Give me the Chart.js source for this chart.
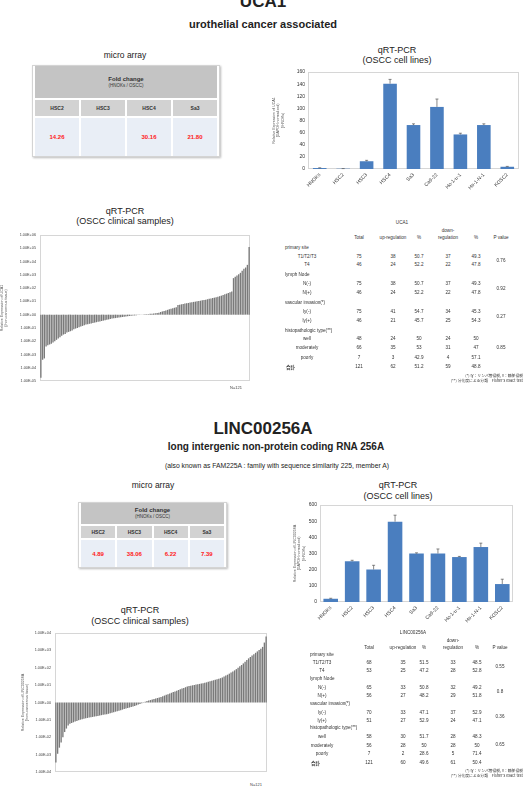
<!DOCTYPE html>
<html><head><meta charset="utf-8">
<script src="https://cdn.jsdelivr.net/npm/chart.js@4.4.1/dist/chart.umd.min.js"></script>
<style>
html,body{margin:0;padding:0;background:#fff;width:525px;height:787px;overflow:hidden;position:relative;font-family:"Liberation Sans",Arial,sans-serif;color:#222}
.t{position:absolute;white-space:nowrap;line-height:1;transform:translate(-50%,-50%)}
.t.l{transform:translate(0,-50%)}
.t.r{transform:translate(-100%,-50%)}
canvas{position:absolute}
table.ma{position:absolute;border-collapse:separate;border-spacing:2px 0;background:#fff;border:1px solid #d4d4d4;box-shadow:1px 1px 2px #bbb;font-weight:bold;table-layout:fixed}
table.ma td{text-align:center;padding:0;line-height:1}
table.ma td.hd{background:#c4c4c4;font-size:6px;color:#333}
table.ma td.hd span{font-size:4.5px;font-weight:normal}
table.ma td.ch{background:#d2d2d2;font-size:5px;color:#333;border-top:2px solid #fff}
table.ma td.v{background:#e9eef6;font-size:6px;color:#ff2020;border-top:2px solid #fff}
.tb{font-size:4.6px;color:#333}
</style></head><body>
<script>
// ---------------- DATA ----------------
const cellLines = ['HNOKs','HSC2','HSC3','HSC4','Sa3','Ca9-22','Ho-1-u-1','Ho-1-N-1','KOSC2'];
const ucaCellValues = [1.6, 0.5, 12.8, 140.8, 72.5, 102.4, 57, 72.5, 3.7];
const ucaCellErrors = [0.4, 0.2, 1.5, 7, 2, 13, 2, 2, 0.6];
const lincCellValues = [20, 252, 201, 497, 300, 300, 278, 340, 111];
const lincCellErrors = [3, 6, 26, 40, 4, 28, 4, 24, 30];

const maColumns = ['HSC2','HSC3','HSC4','Sa3'];
const maUCA1 = ['14.26','','30.16','21.80'];
const maLINC = ['4.89','38.06','6.22','7.39'];

// clinical samples, log10 relative expression, sorted
const ucaClinical = [-4.75,-3.4,-3.3,-2.4,-2.3,-2.25,-2.2,-2.1,-2.0,-1.9,-1.8,-1.7,-1.6,-1.5,-1.45,-1.35,-1.3,-1.25,-1.2,-1.1,-1.05,-1.0,-0.95,-0.9,-0.85,-0.8,
 -0.75,-0.72,-0.69,-0.66,-0.63,-0.6,-0.57,-0.54,-0.51,-0.48,-0.45,-0.42,-0.39,-0.36,-0.33,
 -0.3,-0.28,-0.26,-0.24,-0.22,-0.2,-0.18,-0.16,-0.14,-0.12,-0.1,-0.09,-0.07,-0.06,-0.05,-0.03,-0.02,-0.01,
 0.01,0.02,0.03,0.04,0.06,0.07,0.09,0.1,0.12,0.14,
 0.2,0.24,0.28,0.32,0.36,0.4,0.44,0.48,0.52,0.55,
 0.72,0.75,0.78,0.8,0.83,0.86,0.88,0.91,0.94,0.96,0.98,1.0,1.03,
 1.05,1.08,1.1,1.13,1.16,1.19,1.22,1.25,1.28,1.31,1.35,1.39,1.43,1.48,1.53,1.58,1.63,1.68,1.74,
 2.75,2.85,2.95,3.05,3.15,3.3,
 3.45,3.55,3.75,
 5.1];
const lincClinical = [-3.45,-2.95,-2.6,-2.3,-2.0,-1.7,-1.5,-1.33,-1.23,
 -1.18,-1.14,-1.1,-1.06,-1.02,-0.99,-0.96,
 -0.93,-0.91,-0.89,-0.87,-0.85,-0.83,-0.81,-0.79,-0.77,-0.75,-0.73,-0.71,-0.69,-0.67,-0.65,
 -0.62,-0.59,-0.56,-0.53,-0.5,-0.47,-0.44,-0.41,-0.38,-0.35,-0.32,-0.29,-0.26,-0.23,-0.2,-0.16,-0.12,-0.08,-0.04,
 0.02,0.05,0.08,0.11,0.14,0.17,0.2,0.23,0.26,0.29,0.32,
 0.36,0.4,0.44,0.48,0.52,0.56,0.6,0.64,0.68,0.72,0.76,0.8,0.84,0.88,0.92,
 0.95,0.97,0.99,1.01,1.03,1.05,1.07,1.09,1.11,1.13,1.16,1.19,1.22,1.25,1.28,1.31,1.34,1.37,1.4,1.44,
 1.5,1.55,1.6,1.66,1.72,1.78,1.85,1.92,2.0,2.08,2.16,2.25,2.34,2.44,2.54,
 2.62,2.7,2.78,2.86,2.94,3.02,3.1,3.2,
 3.45,3.8];

const clinHeaders = ['Total','up-regulation','%','regulation','%','P value'];
const clinLabelsUCA1 = [['primary site',0],['T1/T2/T3',1],['T4',1],['lymph Node',0],['N(-)',1],['N(+)',1],['vascular invasion(*)',0],['ly(-)',1],['ly(+)',1],['histopathologic type(**)',0],['well',1],['moderately',1],['poorly',1]];
const clinUCA1 = [null,[75,38,50.7,37,49.3],[46,24,52.2,22,47.8],null,[75,38,50.7,37,49.3],[46,24,52.2,22,47.8],null,[75,41,54.7,34,45.3],[46,21,45.7,25,54.3],null,[48,24,50.0,24,50.0],[66,35,53.0,31,47.0],[7,3,42.9,4,57.1]];
const totalUCA1 = [121,62,51.2,59,48.8];
const pUCA1 = ['0.76','0.92','0.27','0.85'];
const clinLINC = [null,[68,35,51.5,33,48.5],[53,25,47.2,28,52.8],null,[65,33,50.8,32,49.2],[56,27,48.2,29,51.8],null,[70,33,47.1,37,52.9],[51,27,52.9,24,47.1],null,[58,30,51.7,28,48.3],[56,28,50.0,28,50.0],[7,2,28.6,5,71.4]];
const totalLINC = [121,60,49.6,61,50.4];
const pLINC = ['0.55','0.8','0.36','0.65'];
const nSamples = 'N=121';

// ---------------- HELPERS ----------------
function txt(s, x, y, css, cls){
  const d=document.createElement('div'); d.className='t'+(cls?' '+cls:''); d.textContent=s;
  d.style.left=x+'px'; d.style.top=y+'px'; if(css) d.style.cssText+=css; document.body.appendChild(d); return d;
}
function canvas(l,t,w,h){
  const c=document.createElement('canvas'); c.width=w; c.height=h; c.style.left=l+'px'; c.style.top=t+'px';
  c.style.width=w+'px'; c.style.height=h+'px'; document.body.appendChild(c); return c;
}
function maTable(l,t,w,hs,vals){
  const tb=document.createElement('table'); tb.className='ma';
  tb.style.left=l+'px'; tb.style.top=t+'px'; tb.style.width=w+'px';
  let h='<tr style="height:'+hs[0]+'px"><td class="hd" colspan="4">Fold change<br><span>(HNOKs / OSCC)</span></td></tr>';
  h+='<tr style="height:'+hs[1]+'px">'+maColumns.map(c=>'<td class="ch">'+c+'</td>').join('')+'</tr>';
  h+='<tr style="height:'+hs[2]+'px">'+vals.map(v=>'<td class="v">'+v+'</td>').join('')+'</tr>';
  tb.innerHTML=h; document.body.appendChild(tb);
}
function clinTable(gene, geneX, topY, rowYs, labelX, subX, colX, rows, total, pv, pYs, notesY){
  const f='font-size:4.6px;color:#333;';
  txt(gene, geneX, topY, f);
  txt('down-', colX[3], topY+8, f);
  clinHeaders.forEach((h,i)=>txt(h, colX[i], topY+15, f));
  clinLabelsUCA1.forEach((lb,i)=>{
    if(lb[1]===0) txt(lb[0], labelX, rowYs[i], f, 'l');
    else txt(lb[0], subX, rowYs[i], f);
    if(rows[i]) rows[i].forEach((v,j)=>txt(String(v), colX[j], rowYs[i], f));
  });
  const ty=rowYs[rowYs.length-1]+9;
  txt('合計', labelX+1, ty, f+'font-weight:bold;font-family:"Noto Sans CJK JP";', 'l');
  total.forEach((v,j)=>txt(String(v), colX[j], ty, f));
  pv.forEach((p,i)=>txt(p, colX[5], pYs[i], f));
  txt('(*) ly：リンパ管侵襲, v：静脈侵襲', 523, notesY, 'font-size:3.8px;color:#333;font-family:"Noto Sans CJK JP";', 'r');
  txt('(**) 分化度による分類　Fisher\'s exact test', 523, notesY+5, 'font-size:3.8px;color:#333;font-family:"Noto Sans CJK JP";', 'r');
}

const framePlugin = {id:'frame', beforeDatasetsDraw(c){
  const {ctx, chartArea:a}=c; ctx.save(); ctx.strokeStyle='#d6d6d6'; ctx.lineWidth=1;
  ctx.strokeRect(Math.round(a.left)+0.5, Math.round(a.top)+0.5, Math.round(a.width)-1, Math.round(a.height)-1); ctx.restore();
}};
const errPlugin = {id:'err', afterDatasetsDraw(c){
  const ds=c.data.datasets[0]; if(!ds.errors) return;
  const meta=c.getDatasetMeta(0), y=c.scales.y, ctx=c.ctx;
  ctx.save(); ctx.strokeStyle='#555'; ctx.lineWidth=0.7; ctx.beginPath();
  meta.data.forEach((bar,i)=>{ const v=ds.data[i], e=ds.errors[i];
    const yt=y.getPixelForValue(v+e), yb=y.getPixelForValue(v);
    ctx.moveTo(bar.x,yb); ctx.lineTo(bar.x,yt); ctx.moveTo(bar.x-1.5,yt); ctx.lineTo(bar.x+1.5,yt); });
  ctx.stroke(); ctx.restore();
}};

function cellChart(cv, values, errors, max, step, yTitle, yW, padL, padR, padT, xH, barPct){
  return new Chart(cv, {type:'bar',
    data:{labels:cellLines, datasets:[{data:values, errors:errors, backgroundColor:'#4a7ebf', barPercentage:barPct, categoryPercentage:1}]},
    options:{responsive:false, animation:false, layout:{padding:{left:padL,right:padR,top:padT,bottom:0}},
      plugins:{legend:{display:false}, tooltip:{enabled:false}},
      scales:{
        x:{grid:{display:false,drawTicks:false}, border:{display:false},
           ticks:{font:{size:5,family:'Liberation Sans'}, color:'#333', minRotation:45, maxRotation:45, padding:3, autoSkip:false},
           afterFit(s){s.height=xH;}},
        y:{min:0,max:max, grid:{display:false,drawTicks:false}, border:{display:false},
           ticks:{stepSize:step, font:{size:5,family:'Liberation Sans'}, color:'#333', padding:3},
           title:{display:true, text:yTitle, font:{size:3.6,family:'Liberation Sans'}, color:'#555', padding:0},
           afterFit(s){s.width=yW;}}
      }},
    plugins:[framePlugin, errPlugin]});
}
function wfChart(cv, values, min, max, yTitle, yW, padL, padR, padT, xH){
  return new Chart(cv, {type:'bar',
    data:{labels:values.map((_,i)=>i+1), datasets:[{data:values, backgroundColor:'#7a7a7a', barPercentage:0.78, categoryPercentage:1}]},
    options:{responsive:false, animation:false, layout:{padding:{left:padL,right:padR,top:padT,bottom:0}},
      plugins:{legend:{display:false}, tooltip:{enabled:false}},
      scales:{
        x:{grid:{display:false,drawTicks:false}, border:{display:false}, ticks:{display:false}, afterFit(s){s.height=xH;}},
        y:{min:min,max:max, grid:{display:false,drawTicks:false}, border:{display:false},
           ticks:{stepSize:1, font:{size:3.8,family:'Liberation Sans'}, color:'#444', padding:4,
             callback:v=>'1.00E'+(v<0?'-':'+')+String(Math.abs(v)).padStart(2,'0')},
           title:{display:true, text:yTitle, font:{size:3.6,family:'Liberation Sans'}, color:'#555', padding:0},
           afterFit(s){s.width=yW;}}
      }},
    plugins:[framePlugin]});
}

// ---------------- UCA1 ----------------
txt('UCA1', 263, 1, 'font-size:17px;font-weight:bold;');
txt('urothelial cancer associated', 263, 24, 'font-size:11px;font-weight:bold;');
txt('micro array', 125, 55, 'font-size:8.5px;');
maTable(32, 65, 188, [32,18,40], maUCA1);

txt('qRT-PCR', 397, 50, 'font-size:9px;');
txt('(OSCC cell lines)', 397, 60, 'font-size:9px;');
cellChart(canvas(272,66,253,134), ucaCellValues, ucaCellErrors, 160, 20,
  ['Relative Expression of UCA1','(GAPDH normalized)','(/HNOKs)'], 36, 0, 6, 3, 31, 0.58);

txt('qRT-PCR', 125, 211, 'font-size:9px;');
txt('(OSCC clinical samples)', 125, 221, 'font-size:9px;');
wfChart(canvas(0,228,262,165), ucaClinical, -5, 6,
  ['Relative Expression of UCA1','(/non-cancerous tissue)'], 40, 0, 12, 7, 12);
txt(nSamples, 236, 388, 'font-size:4px;color:#444;');

clinTable('UCA1', 402, 223, [248,257,265,275,284,293,303,312,321,331,339,348,358], 285, 307,
  [359,393,419,448,476,501], clinUCA1, totalUCA1, pUCA1, [261,289,317,348], 376);

// ---------------- LINC00256A ----------------
txt('LINC00256A', 263, 428, 'font-size:17px;font-weight:bold;');
txt('long intergenic non-protein coding RNA 256A', 276, 447, 'font-size:10px;font-weight:bold;');
txt('(also known as FAM225A :  family with sequence similarity 225, member A)', 277, 466, 'font-size:6.8px;');
txt('micro array', 153, 485, 'font-size:8.5px;');
maTable(78, 502, 149, [21,14,29], maLINC);

txt('qRT-PCR', 398, 485, 'font-size:9px;');
txt('(OSCC cell lines)', 398, 496, 'font-size:9px;');
cellChart(canvas(280,499,245,145), lincCellValues, lincCellErrors, 600, 100,
  ['Relative Expression of LINC00256A','(GAPDH normalized)','(/HNOKs)'], 27, 13, 12, 3, 42, 0.68);

txt('qRT-PCR', 140, 610, 'font-size:9px;');
txt('(OSCC clinical samples)', 140, 621, 'font-size:9px;');
wfChart(canvas(15,626,262,155), lincClinical, -4, 4,
  ['Relative Expression of LINC00256A','(/non-cancerous tissue)'], 34, 6, 10, 7, 9);
txt(nSamples, 256, 785, 'font-size:4px;color:#444;');

clinTable('LINC00256A', 413, 633, [655,663,671,679,688,696,704,713,721,728,737,746,754], 310, 322,
  [369,403,424,453,477,500], clinLINC, totalLINC, pLINC, [667,692,717,745], 771);
</script>
</body></html>
